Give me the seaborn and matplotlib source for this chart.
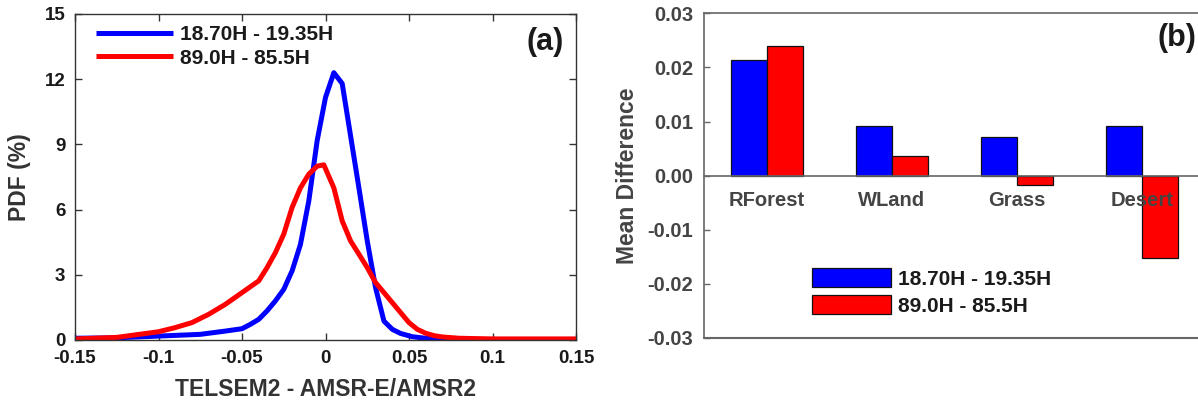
import numpy as np
import pandas as pd
import matplotlib
matplotlib.use("Agg")
import matplotlib.pyplot as plt
import seaborn as sns
from matplotlib.ticker import FuncFormatter, FormatStrFormatter

# ---------------- data ----------------
pair_labels = ["18.70H - 19.35H", "89.0H - 85.5H"]

# panel (a): PDF curves
x_blue = [-0.15, -0.125, -0.1, -0.075, -0.06, -0.05, -0.045, -0.04, -0.035, -0.03,
          -0.025, -0.02, -0.015, -0.01, -0.005, 0.0, 0.005, 0.01, 0.015, 0.02,
          0.025, 0.03, 0.035, 0.04, 0.045, 0.052, 0.06, 0.07, 0.1, 0.15]
pdf_blue = [0.08, 0.1, 0.18, 0.26, 0.41, 0.52, 0.72, 0.95, 1.34, 1.8,
            2.33, 3.18, 4.4, 6.4, 9.17, 11.16, 12.3, 11.8, 9.4, 7.0,
            4.56, 2.4, 0.87, 0.49, 0.3, 0.15, 0.08, 0.04, 0.02, 0.02]

x_red = [-0.15, -0.125, -0.1, -0.09, -0.08, -0.07, -0.06, -0.05, -0.04, -0.035,
         -0.03, -0.025, -0.02, -0.015, -0.01, -0.005, -0.001, 0.005, 0.01, 0.015,
         0.02, 0.025, 0.03, 0.035, 0.04, 0.045, 0.05, 0.055, 0.06, 0.065,
         0.07, 0.08, 0.1, 0.15]
pdf_red = [0.05, 0.12, 0.38, 0.57, 0.8, 1.18, 1.64, 2.18, 2.72, 3.33,
           4.02, 4.87, 6.1, 7.0, 7.63, 8.0, 8.06, 7.0, 5.48, 4.56,
           3.95, 3.33, 2.64, 2.18, 1.72, 1.26, 0.8, 0.49, 0.31, 0.2,
           0.14, 0.08, 0.05, 0.05]

# panel (b): mean differences
surfaces = ["RForest", "WLand", "Grass", "Desert"]
mean_blue = [0.0213, 0.0092, 0.0071, 0.0092]
mean_red = [0.0240, 0.0037, -0.0017, -0.0153]

x_ticks_a = [-0.15, -0.1, -0.05, 0, 0.05, 0.1, 0.15]
y_ticks_a = [0, 3, 6, 9, 12, 15]
y_ticks_b = [-0.03, -0.02, -0.01, 0.0, 0.01, 0.02, 0.03]

colors = ["#0000ff", "#ff0000"]

# ---------------- style ----------------
sns.set_style("ticks")
plt.rcParams["font.family"] = ["Liberation Sans", "DejaVu Sans"]
plt.rcParams["font.weight"] = "bold"
plt.rcParams["axes.unicode_minus"] = False

fig = plt.figure(figsize=(11.98, 4.07), dpi=100)
W, H = 1198, 407

def pos(l, r, t, b):
    return [l / W, (H - b) / H, (r - l) / W, (b - t) / H]

ax1 = fig.add_axes(pos(75, 576, 14, 340))
ax2 = fig.add_axes(pos(704, 1205, 13.4, 337.8))

# ---------------- panel (a) ----------------
df_a = pd.concat([
    pd.DataFrame({"diff": x_blue, "pdf": pdf_blue, "pair": pair_labels[0]}),
    pd.DataFrame({"diff": x_red, "pdf": pdf_red, "pair": pair_labels[1]}),
], ignore_index=True)

sns.lineplot(data=df_a, x="diff", y="pdf", hue="pair", palette=colors,
             linewidth=3.6, sort=False, estimator=None, ax=ax1,
             solid_joinstyle="round", solid_capstyle="butt")

ax1.set_xlim(-0.15, 0.15)
ax1.set_ylim(0, 15)
ax1.set_xticks(x_ticks_a)
ax1.set_yticks(y_ticks_a)
ax1.xaxis.set_major_formatter(FuncFormatter(lambda v, p: "%g" % round(v, 3)))
ax1.tick_params(axis="both", direction="in", length=5, width=1, color="#333333",
                labelsize=13.5, labelcolor="#1a1a1a", top=True, right=True, pad=7)
for s in ax1.spines.values():
    s.set_color("#333333")
    s.set_linewidth(1)
ax1.set_xlabel("TELSEM2 - AMSR-E/AMSR2", fontsize=16.5, fontweight="bold",
               color="#333333", labelpad=8)
ax1.set_ylabel("PDF (%)", fontsize=16.5, fontweight="bold", color="#333333",
               labelpad=10)
for lab in ax1.get_xticklabels() + ax1.get_yticklabels():
    lab.set_fontweight("bold")

leg1 = ax1.legend(loc="upper left", bbox_to_anchor=((96 - 75) / 501, 0.965),
                  frameon=False, fontsize=15, handlelength=3.7,
                  handletextpad=0.35, labelspacing=0.2, borderpad=0,
                  borderaxespad=0)
for t in leg1.get_texts():
    t.set_fontweight("bold")
    t.set_color("#1a1a1a")
for l in leg1.get_lines():
    l.set_linewidth(3.6)

ax1.text(0.938, 0.914, "(a)", transform=ax1.transAxes, fontsize=22,
         fontweight="bold", ha="center", va="center", color="#1a1a1a")

# ---------------- panel (b) ----------------
df_b = pd.DataFrame({
    "surface": surfaces * 2,
    "mean": mean_blue + mean_red,
    "pair": [pair_labels[0]] * len(surfaces) + [pair_labels[1]] * len(surfaces),
})
sns.barplot(data=df_b, x="surface", y="mean", hue="pair", palette=colors,
            saturation=1, width=0.575, edgecolor="#111111", linewidth=0.9,
            errorbar=None, ax=ax2)
ax2.set_axisbelow(False)

ax2.set_xlim(-0.5, 3.5)
ax2.set_ylim(-0.03, 0.03)
ax2.set_yticks(y_ticks_b)
ax2.yaxis.set_major_formatter(FormatStrFormatter("%.2f"))
ax2.spines["bottom"].set_position(("data", 0))
ax2.spines["right"].set_visible(False)
for s in ["left", "top", "bottom"]:
    ax2.spines[s].set_color("#666666")
    ax2.spines[s].set_linewidth(1.2)
ax2.axhline(-0.03, color="#666666", linewidth=1.5, clip_on=False)
ax2.tick_params(axis="x", length=0, pad=11, labelsize=14.5, labelcolor="#444444")
ax2.tick_params(axis="y", direction="in", length=4, width=1, color="#666666",
                labelsize=14.5, labelcolor="#444444", pad=8)
for lab in ax2.get_xticklabels() + ax2.get_yticklabels():
    lab.set_fontweight("bold")
ax2.set_xlabel("")
ax2.set_ylabel("Mean Difference", fontsize=16.5, fontweight="bold",
               color="#444444", labelpad=6)

handles, labels = ax2.get_legend_handles_labels()
leg2 = ax2.legend(handles, labels, loc="upper left",
                  bbox_to_anchor=((812 - 704) / 501, 0.215),
                  frameon=False, fontsize=15, handlelength=3.8,
                  handleheight=1.05, handletextpad=0.35, labelspacing=0.3,
                  borderpad=0, borderaxespad=0)
for t in leg2.get_texts():
    t.set_fontweight("bold")
    t.set_color("#1a1a1a")

ax2.text(0.944, 0.923, "(b)", transform=ax2.transAxes, fontsize=22,
         fontweight="bold", ha="center", va="center", color="#1a1a1a")

fig.savefig("out.png", dpi=100)
